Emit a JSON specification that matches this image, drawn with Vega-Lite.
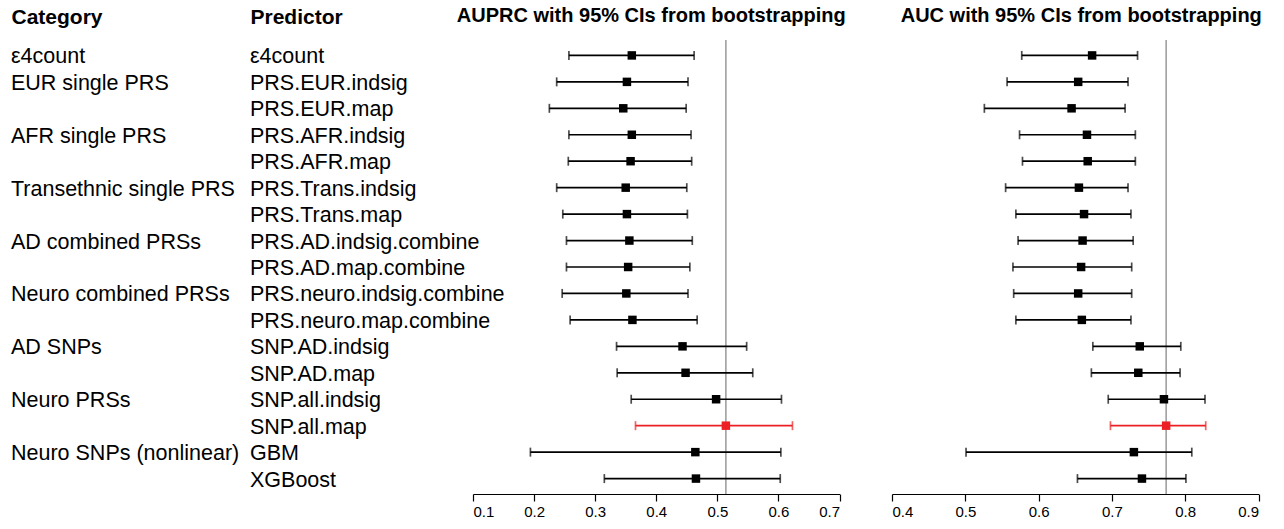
{
  "$schema": "https://vega.github.io/schema/vega-lite/v6.json",
  "padding": {"left": 11, "top": 6, "right": 5, "bottom": 5},
  "bounds": "flush",
  "spacing": 52,
  "config": {
    "view": {"stroke": null},
    "font": "Liberation Sans",
    "axis": {"grid": false, "labelColor": "black", "domainColor": "black", "tickColor": "black", "labelFont": "Liberation Sans"}
  },
  "datasets": {
    "rows": [
      {"row": 1, "category": "ε4count", "predictor": "ε4count", "auprc": 0.360, "auprc_lo": 0.257, "auprc_hi": 0.462, "auc": 0.673, "auc_lo": 0.577, "auc_hi": 0.735, "best": "no"},
      {"row": 2, "category": "EUR single PRS", "predictor": "PRS.EUR.indsig", "auprc": 0.352, "auprc_lo": 0.237, "auprc_hi": 0.452, "auc": 0.654, "auc_lo": 0.557, "auc_hi": 0.722, "best": "no"},
      {"row": 3, "category": "EUR single PRS", "predictor": "PRS.EUR.map", "auprc": 0.346, "auprc_lo": 0.225, "auprc_hi": 0.449, "auc": 0.645, "auc_lo": 0.526, "auc_hi": 0.718, "best": "no"},
      {"row": 4, "category": "AFR single PRS", "predictor": "PRS.AFR.indsig", "auprc": 0.360, "auprc_lo": 0.257, "auprc_hi": 0.457, "auc": 0.666, "auc_lo": 0.574, "auc_hi": 0.732, "best": "no"},
      {"row": 5, "category": "AFR single PRS", "predictor": "PRS.AFR.map", "auprc": 0.358, "auprc_lo": 0.256, "auprc_hi": 0.458, "auc": 0.667, "auc_lo": 0.578, "auc_hi": 0.732, "best": "no"},
      {"row": 6, "category": "Transethnic single PRS", "predictor": "PRS.Trans.indsig", "auprc": 0.350, "auprc_lo": 0.237, "auprc_hi": 0.450, "auc": 0.655, "auc_lo": 0.555, "auc_hi": 0.722, "best": "no"},
      {"row": 7, "category": "Transethnic single PRS", "predictor": "PRS.Trans.map", "auprc": 0.352, "auprc_lo": 0.247, "auprc_hi": 0.451, "auc": 0.662, "auc_lo": 0.569, "auc_hi": 0.726, "best": "no"},
      {"row": 8, "category": "AD combined PRSs", "predictor": "PRS.AD.indsig.combine", "auprc": 0.356, "auprc_lo": 0.253, "auprc_hi": 0.459, "auc": 0.660, "auc_lo": 0.572, "auc_hi": 0.729, "best": "no"},
      {"row": 9, "category": "AD combined PRSs", "predictor": "PRS.AD.map.combine", "auprc": 0.354, "auprc_lo": 0.253, "auprc_hi": 0.455, "auc": 0.658, "auc_lo": 0.565, "auc_hi": 0.727, "best": "no"},
      {"row": 10, "category": "Neuro combined PRSs", "predictor": "PRS.neuro.indsig.combine", "auprc": 0.351, "auprc_lo": 0.246, "auprc_hi": 0.452, "auc": 0.654, "auc_lo": 0.566, "auc_hi": 0.727, "best": "no"},
      {"row": 11, "category": "Neuro combined PRSs", "predictor": "PRS.neuro.map.combine", "auprc": 0.361, "auprc_lo": 0.259, "auprc_hi": 0.467, "auc": 0.659, "auc_lo": 0.569, "auc_hi": 0.726, "best": "no"},
      {"row": 12, "category": "AD SNPs", "predictor": "SNP.AD.indsig", "auprc": 0.443, "auprc_lo": 0.335, "auprc_hi": 0.548, "auc": 0.738, "auc_lo": 0.674, "auc_hi": 0.794, "best": "no"},
      {"row": 13, "category": "AD SNPs", "predictor": "SNP.AD.map", "auprc": 0.448, "auprc_lo": 0.336, "auprc_hi": 0.558, "auc": 0.736, "auc_lo": 0.672, "auc_hi": 0.793, "best": "no"},
      {"row": 14, "category": "Neuro PRSs", "predictor": "SNP.all.indsig", "auprc": 0.498, "auprc_lo": 0.359, "auprc_hi": 0.605, "auc": 0.771, "auc_lo": 0.695, "auc_hi": 0.827, "best": "no"},
      {"row": 15, "category": "Neuro PRSs", "predictor": "SNP.all.map", "auprc": 0.514, "auprc_lo": 0.366, "auprc_hi": 0.623, "auc": 0.774, "auc_lo": 0.698, "auc_hi": 0.828, "best": "yes"},
      {"row": 16, "category": "Neuro SNPs (nonlinear)", "predictor": "GBM", "auprc": 0.464, "auprc_lo": 0.194, "auprc_hi": 0.604, "auc": 0.730, "auc_lo": 0.501, "auc_hi": 0.809, "best": "no"},
      {"row": 17, "category": "Neuro SNPs (nonlinear)", "predictor": "XGBoost", "auprc": 0.465, "auprc_lo": 0.315, "auprc_hi": 0.603, "auc": 0.741, "auc_lo": 0.653, "auc_hi": 0.801, "best": "no"}
    ]
  },
  "hconcat": [
    {
      "width": 409.5,
      "height": 454,
      "data": {"name": "rows"},
      "layer": [
        {
          "transform": [
            {"window": [{"op": "row_number", "as": "rn"}], "groupby": ["category"], "sort": [{"field": "row"}]},
            {"filter": "datum.rn === 1"}
          ],
          "mark": {"type": "text", "align": "left", "baseline": "middle", "fontSize": 21.5, "color": "black", "dy": 2},
          "encoding": {
            "x": {"datum": "Category", "type": "nominal",
                  "scale": {"type": "point", "domain": ["Category", "Predictor"], "range": [0, 239], "padding": 0},
                  "axis": {"orient": "top", "title": null, "domain": false, "ticks": false, "tickSize": 0, "labelPadding": 13, "labelAlign": "left", "labelFontSize": 21, "labelFontWeight": "bold", "labelAngle": 0}},
            "y": {"field": "row", "type": "ordinal", "axis": null, "scale": {"type": "point", "padding": 0.583}},
            "text": {"field": "category"}
          }
        },
        {
          "mark": {"type": "text", "align": "left", "baseline": "middle", "fontSize": 21.5, "color": "black", "dy": 2},
          "encoding": {
            "x": {"datum": "Predictor", "type": "nominal"},
            "y": {"field": "row", "type": "ordinal", "axis": null, "scale": {"type": "point", "padding": 0.583}},
            "text": {"field": "predictor"}
          }
        }
      ]
    },
    {
      "width": 366.5,
      "height": 454,
      "data": {"name": "rows"},
      "title": {"text": "AUPRC with 95% CIs from bootstrapping", "fontSize": 20, "fontWeight": "bold", "color": "black", "anchor": "middle", "offset": 13, "dx": -5},
      "encoding": {
        "y": {"field": "row", "type": "ordinal", "axis": null, "scale": {"type": "point", "padding": 0.583}}
      },
      "layer": [
        {
          "transform": [{"filter": "datum.best === 'yes'"}],
          "mark": {"type": "rule", "color": "#999999", "strokeWidth": 1.5},
          "encoding": {
            "x": {"field": "auprc", "type": "quantitative"},
            "y": null
          }
        },
        {
          "mark": {"type": "rule", "strokeWidth": 1.7},
          "encoding": {
            "x": {"field": "auprc_lo", "type": "quantitative",
                  "scale": {"domain": [0.1, 0.7], "nice": false, "zero": false},
                  "axis": {"title": null, "values": [0.1, 0.2, 0.3, 0.4, 0.5, 0.6, 0.7], "format": ".1f", "tickSize": 7, "labelFontSize": 15, "labelPadding": 3, "domainWidth": 1.2, "tickWidth": 1.2}},
            "x2": {"field": "auprc_hi"},
            "color": {"field": "best", "type": "nominal", "scale": {"domain": ["no", "yes"], "range": ["black", "#ec2024"]}, "legend": null}
          }
        },
        {
          "mark": {"type": "tick", "size": 9, "thickness": 1.7},
          "encoding": {
            "x": {"field": "auprc_lo", "type": "quantitative"},
            "color": {"field": "best", "type": "nominal", "legend": null}
          }
        },
        {
          "mark": {"type": "tick", "size": 9, "thickness": 1.7},
          "encoding": {
            "x": {"field": "auprc_hi", "type": "quantitative"},
            "color": {"field": "best", "type": "nominal", "legend": null}
          }
        },
        {
          "mark": {"type": "point", "shape": "square", "filled": true, "size": 72, "opacity": 1},
          "encoding": {
            "x": {"field": "auprc", "type": "quantitative"},
            "color": {"field": "best", "type": "nominal", "legend": null}
          }
        }
      ]
    },
    {
      "width": 366.5,
      "height": 454,
      "data": {"name": "rows"},
      "title": {"text": "AUC with 95% CIs from bootstrapping", "fontSize": 20, "fontWeight": "bold", "color": "black", "anchor": "middle", "offset": 13, "dx": 6},
      "encoding": {
        "y": {"field": "row", "type": "ordinal", "axis": null, "scale": {"type": "point", "padding": 0.583}}
      },
      "layer": [
        {
          "transform": [{"filter": "datum.best === 'yes'"}],
          "mark": {"type": "rule", "color": "#999999", "strokeWidth": 1.5},
          "encoding": {
            "x": {"field": "auc", "type": "quantitative"},
            "y": null
          }
        },
        {
          "mark": {"type": "rule", "strokeWidth": 1.7},
          "encoding": {
            "x": {"field": "auc_lo", "type": "quantitative",
                  "scale": {"domain": [0.4, 0.9], "nice": false, "zero": false},
                  "axis": {"title": null, "values": [0.4, 0.5, 0.6, 0.7, 0.8, 0.9], "format": ".1f", "tickSize": 7, "labelFontSize": 15, "labelPadding": 3, "domainWidth": 1.2, "tickWidth": 1.2}},
            "x2": {"field": "auc_hi"},
            "color": {"field": "best", "type": "nominal", "scale": {"domain": ["no", "yes"], "range": ["black", "#ec2024"]}, "legend": null}
          }
        },
        {
          "mark": {"type": "tick", "size": 9, "thickness": 1.7},
          "encoding": {
            "x": {"field": "auc_lo", "type": "quantitative"},
            "color": {"field": "best", "type": "nominal", "legend": null}
          }
        },
        {
          "mark": {"type": "tick", "size": 9, "thickness": 1.7},
          "encoding": {
            "x": {"field": "auc_hi", "type": "quantitative"},
            "color": {"field": "best", "type": "nominal", "legend": null}
          }
        },
        {
          "mark": {"type": "point", "shape": "square", "filled": true, "size": 72, "opacity": 1},
          "encoding": {
            "x": {"field": "auc", "type": "quantitative"},
            "color": {"field": "best", "type": "nominal", "legend": null}
          }
        }
      ]
    }
  ]
}
